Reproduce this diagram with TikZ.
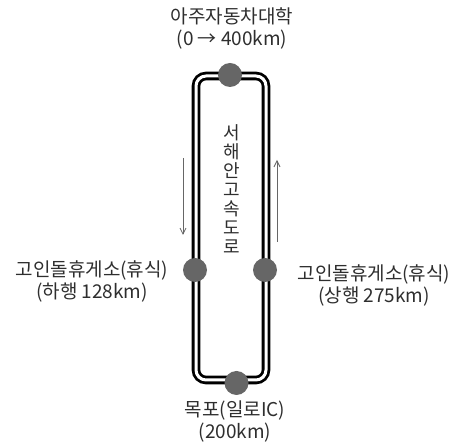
\documentclass[tikz,border=0pt]{standalone}
\usepackage{fontspec}
\setmainfont{Noto Sans CJK KR}
\usetikzlibrary{arrows.meta}
\definecolor{txt}{HTML}{2e2e2e}
\definecolor{dot}{HTML}{666666}
\begin{document}
\begin{tikzpicture}[x=1pt,y=-1pt,
  lbl/.style={text=txt,font=\fontsize{19}{22}\selectfont,align=center,inner sep=0pt},
  vlbl/.style={text=txt,font=\fontsize{18}{19}\selectfont,align=center,inner sep=0pt},
  stop/.style={circle,fill=dot,minimum size=24pt,inner sep=0pt},
  road/.style={draw=black,line width=2.8pt,double=white,double distance=3pt},
  dirarrow/.style={draw=dot,line width=0.8pt,-{Straight Barb[length=6pt,width=6pt]}}]
\useasboundingbox (0,0) rectangle (464,443);
% road
\draw[road,rounded corners=10pt] (196,76) rectangle (266,380);
% stops
\node[stop] (top) at (230,75) {};
\node[stop] (left) at (195,270) {};
\node[stop] (right) at (265,270) {};
\node[stop] (bottom) at (236.5,383) {};
% labels
\node[lbl] (toplbl) at (232,28) {아주자동차대학\\(0 → 400km)};
\node[lbl] (leftlbl) at (92,281) {고인돌휴게소(휴식)\\(하행 128km)};
\node[lbl] (rightlbl) at (374,285) {고인돌휴게소(휴식)\\(상행 275km)};
\node[lbl] (botlbl) at (235,422) {목포(일로IC)\\(200km)};
\node[vlbl] (roadname) at (232,189) {서\\해\\안\\고\\속\\도\\로};
% direction arrows
\coordinate (la1) at (183,158);
\coordinate (la2) at (183,235);
\coordinate (ra1) at (277,242);
\coordinate (ra2) at (277,160);
\draw[dirarrow] (la1) -- (la2);
\draw[dirarrow] (ra1) -- (ra2);
\end{tikzpicture}
\end{document}
